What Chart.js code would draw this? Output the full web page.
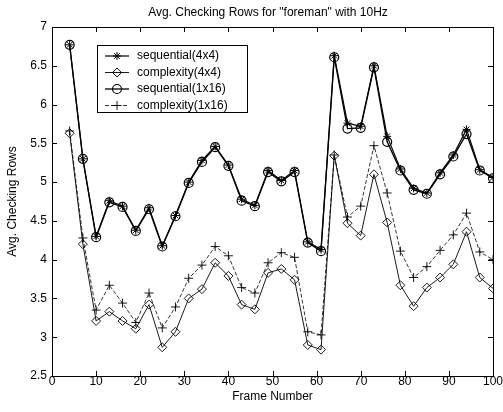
<!DOCTYPE html>
<html><head><meta charset="utf-8">
<script src="https://cdn.jsdelivr.net/npm/chart.js@4.4.0/dist/chart.umd.min.js"></script>
<style>html,body{margin:0;padding:0;background:#fff;}</style>
</head><body>
<canvas id="c" width="503" height="412" style="display:block;width:503px;height:412px"></canvas>
<script>
const frames   = [4,7,10,13,16,19,22,25,28,31,34,37,40,43,46,49,52,55,58,61,64,67,70,73,76,79,82,85,88,91,94,97,100];
const seq4x4   = [6.77,5.30,4.30,4.76,4.69,4.38,4.67,4.18,4.57,5.00,5.28,5.46,5.22,4.78,4.70,5.15,5.02,5.15,4.23,4.13,6.63,5.76,5.72,6.50,5.59,5.17,4.92,4.86,5.12,5.35,5.68,5.16,5.06];
const comp4x4  = [5.63,4.20,3.21,3.33,3.21,3.11,3.42,2.87,3.07,3.50,3.62,3.96,3.79,3.42,3.36,3.83,3.88,3.74,2.90,2.84,5.34,4.47,4.31,5.10,4.48,3.67,3.40,3.64,3.77,3.94,4.36,3.77,3.63];
const seq1x16  = [6.77,5.30,4.29,4.74,4.68,4.37,4.65,4.17,4.56,4.99,5.26,5.45,5.21,4.76,4.69,5.13,5.01,5.13,4.22,4.11,6.61,5.69,5.70,6.48,5.52,5.15,4.90,4.85,5.10,5.33,5.62,5.15,5.05];
const comp1x16 = [5.66,4.28,3.35,3.67,3.44,3.19,3.57,3.12,3.39,3.76,3.93,4.17,4.05,3.64,3.57,3.96,4.09,4.03,3.07,3.03,5.35,4.55,4.69,5.47,4.86,4.11,3.77,3.91,4.12,4.32,4.60,4.10,4.00];
const seriesNames = ['sequential(4x4)','complexity(4x4)','sequential(1x16)','complexity(1x16)'];
const xTicks = [0,10,20,30,40,50,60,70,80,90,100];
const yTicks = [2.5,3,3.5,4,4.5,5,5.5,6,6.5,7];
const titleText = 'Avg. Checking Rows for "foreman" with 10Hz';
const xTitle = 'Frame Number';
const yTitle = 'Avg. Checking Rows';

const FONT = "'Liberation Sans', Arial, Helvetica, sans-serif";
const pts = arr => frames.map((f, i) => ({x: f, y: arr[i]}));

const styles = [
  {pointStyle: 'star',    radius: 4,   lineWidth: 1.2, pointBorderWidth: 1,   dash: []},
  {pointStyle: 'rectRot', radius: 4.5, lineWidth: 0.9, pointBorderWidth: 0.9, dash: []},
  {pointStyle: 'circle',  radius: 4.5, lineWidth: 1.3, pointBorderWidth: 1.2, dash: []},
  {pointStyle: 'cross',   radius: 4.5, lineWidth: 0.8, pointBorderWidth: 0.9, dash: [4, 2]}
];
const values = [seq4x4, comp4x4, seq1x16, comp1x16];

const datasets = values.map((v, i) => ({
  label: seriesNames[i],
  data: pts(v),
  borderColor: '#000',
  backgroundColor: 'rgba(0,0,0,0)',
  pointBackgroundColor: 'rgba(0,0,0,0)',
  pointBorderColor: '#000',
  borderWidth: styles[i].lineWidth,
  borderDash: styles[i].dash,
  pointStyle: styles[i].pointStyle,
  pointRadius: styles[i].radius,
  pointBorderWidth: styles[i].pointBorderWidth,
  tension: 0,
  fill: false
}));

const decor = {
  id: 'decor',
  afterDraw(chart) {
    const ctx = chart.ctx;
    const a = chart.chartArea;
    const xs = chart.scales.x, ys = chart.scales.y;
    ctx.save();
    ctx.strokeStyle = '#000';
    ctx.lineWidth = 1;
    ctx.setLineDash([]);
    ctx.strokeRect(Math.round(a.left) + 0.5, Math.round(a.top) + 0.5, Math.round(a.right - a.left), Math.round(a.bottom - a.top));
    const tl = 5;
    ctx.beginPath();
    xTicks.forEach(v => {
      const px = Math.round(xs.getPixelForValue(v)) + 0.5;
      ctx.moveTo(px, a.bottom); ctx.lineTo(px, a.bottom - tl);
      ctx.moveTo(px, a.top); ctx.lineTo(px, a.top + tl);
    });
    yTicks.forEach(v => {
      const py = Math.round(ys.getPixelForValue(v)) + 0.5;
      ctx.moveTo(a.left, py); ctx.lineTo(a.left + tl, py);
      ctx.moveTo(a.right, py); ctx.lineTo(a.right - tl, py);
    });
    ctx.stroke();
    ctx.fillStyle = '#000';
    ctx.font = '12px ' + FONT;
    ctx.textAlign = 'center';
    ctx.textBaseline = 'middle';
    ctx.fillText(titleText, 268, 13);
    const lx = 97, ly = 45, lw = 150, lh = 67;
    ctx.fillStyle = '#fff';
    ctx.fillRect(lx, ly, lw, lh);
    ctx.strokeRect(lx + 0.5, ly + 0.5, lw, lh);
    const rowY = [56, 72.5, 89, 105.5];
    chart.data.datasets.forEach((ds, i) => {
      const y = rowY[i];
      ctx.save();
      ctx.strokeStyle = '#000';
      ctx.lineWidth = ds.borderWidth;
      ctx.setLineDash(ds.borderDash || []);
      ctx.beginPath();
      ctx.moveTo(105, y); ctx.lineTo(129, y);
      ctx.stroke();
      ctx.setLineDash([]);
      ctx.fillStyle = 'rgba(0,0,0,0)';
      ctx.lineWidth = ds.pointBorderWidth;
      Chart.helpers.drawPoint(ctx, {pointStyle: ds.pointStyle, radius: ds.pointRadius, rotation: 0, borderWidth: ds.pointBorderWidth}, 117, y);
      ctx.restore();
      ctx.fillStyle = '#000';
      ctx.font = '12px ' + FONT;
      ctx.textAlign = 'left';
      ctx.textBaseline = 'middle';
      ctx.fillText(ds.label, 137, y);
    });
    ctx.restore();
  }
};

new Chart(document.getElementById('c'), {
  type: 'line',
  data: {datasets},
  plugins: [decor],
  options: {
    responsive: false,
    animation: false,
    devicePixelRatio: 1,
    layout: {padding: {top: 27, right: 10, left: 0, bottom: 0}},
    plugins: {legend: {display: false}, tooltip: {enabled: false}, title: {display: false}},
    scales: {
      x: {
        type: 'linear', min: 0, max: 100,
        afterBuildTicks: s => { s.ticks = xTicks.map(v => ({value: v})); },
        afterFit: s => { s.height = 36; },
        ticks: {autoSkip: false, maxRotation: 0, color: '#000', font: {family: FONT, size: 12}, padding: -2,
                callback: v => String(v)},
        grid: {display: false, drawTicks: false},
        border: {display: false},
        title: {display: true, text: xTitle, color: '#000', font: {family: FONT, size: 12}, padding: {top: 0, bottom: 8}}
      },
      y: {
        type: 'linear', min: 2.5, max: 7,
        afterBuildTicks: s => { s.ticks = yTicks.map(v => ({value: v})); },
        afterFit: s => { s.width = 52; },
        ticks: {color: '#000', font: {family: FONT, size: 12}, padding: 5, callback: v => String(v)},
        grid: {display: false, drawTicks: false},
        border: {display: false},
        title: {display: true, text: yTitle, color: '#000', font: {family: FONT, size: 12}, padding: {top: 5, bottom: 0}}
      }
    }
  }
});
</script>
</body></html>
